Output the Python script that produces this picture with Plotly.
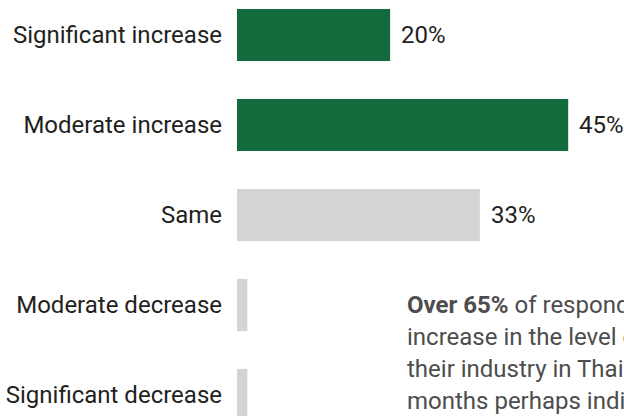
import plotly.graph_objects as go

categories = ["Significant increase", "Moderate increase", "Same", "Moderate decrease", "Significant decrease"]
values = [20.8, 45, 33, 1.4, 1.4]
value_labels = ["20%", "45%", "33%", "", ""]
bar_colors = ["#136a3d", "#136a3d", "#d3d4d6", "#d3d4d6", "#d3d4d6"]
note_lines = [
    "<b>Over 65%</b> of respondents expect an",
    "increase in the level of activity in",
    "their industry in Thailand over the next 12",
    "months perhaps indicating growing confidence",
]

FONT = "Roboto"
SIZE = 24
fig = go.Figure(go.Bar(
    y=categories, x=values, orientation="h",
    marker=dict(color=bar_colors, line=dict(width=0)),
    width=0.58,
))

for cat, val, lab in zip(categories, values, value_labels):
    if lab:
        fig.add_annotation(
            x=val, y=cat, text=lab, xref="x", yref="y",
            xanchor="left", yanchor="middle", xshift=9, showarrow=False,
            font=dict(family=FONT, size=SIZE, color="#231f20"),
        )

fig.update_layout(
    width=624, height=416,
    margin=dict(l=237, r=0, t=0, b=0),
    paper_bgcolor="white", plot_bgcolor="white",
    showlegend=False,
    font=dict(family=FONT, size=SIZE, color="#231f20"),
    xaxis=dict(range=[0, 387 / 7.36], visible=False),
    yaxis=dict(range=[4.233, -0.389], showgrid=False, zeroline=False,
               showline=False, ticks="", ticklabelstandoff=14,
               tickfont=dict(family=FONT, size=SIZE, color="#231f20")),
)

for i, line in enumerate(note_lines):
    fig.add_annotation(
        text=line, xref="paper", yref="paper",
        x=(405 - 237) / 387, y=1 - (305 + 32 * i) / 416,
        xanchor="left", yanchor="middle", showarrow=False, align="left",
        font=dict(family=FONT, size=SIZE, color="#4d4d4d"),
    )

fig.write_html("out.html")
